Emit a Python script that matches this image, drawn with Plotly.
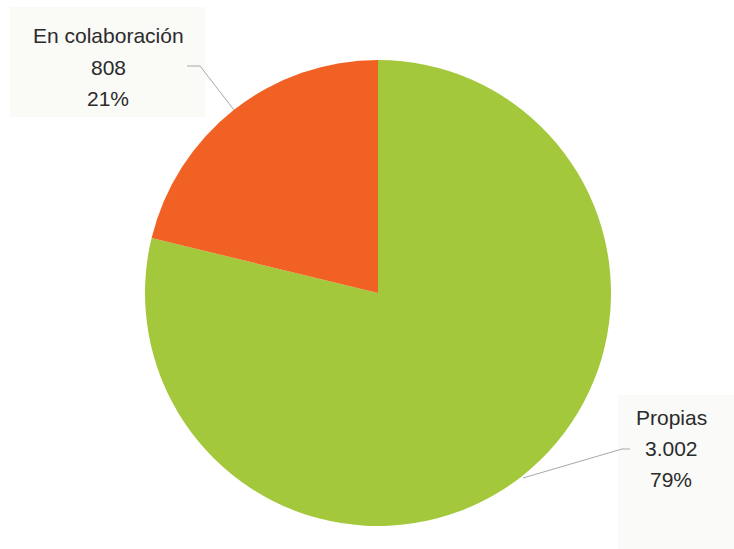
import plotly.graph_objects as go

categories = ["Propias", "En colaboración"]
values = [3002, 808]
colors = ["#A3C83B", "#F26124"]

W, H = 734, 549
cx, cy, r = 378, 293, 233

total = sum(values)

def fmt_num(v):
    return f"{v:,}".replace(",", ".")

def px(x):
    return x / W

def py(y):
    return 1 - y / H

fig = go.Figure()
fig.add_trace(go.Pie(
    labels=categories,
    values=values,
    marker=dict(colors=colors, line=dict(width=0)),
    sort=False,
    direction="clockwise",
    rotation=0,
    textinfo="none",
    hoverinfo="label+value+percent",
    showlegend=False,
    domain=dict(x=[px(cx - r), px(cx + r)], y=[py(cy + r), py(cy - r)]),
))

# label positions (centres of label blocks) in pixels
label_pos = {
    "En colaboración": (108, 36),
    "Propias": (671, 417),
}
line_gap = 31

annotations = []
for cat, val in zip(categories, values):
    lx, ly = label_pos[cat]
    pct = round(val / total * 100)
    lines = [cat, fmt_num(val), f"{pct}%"]
    for i, t in enumerate(lines):
        annotations.append(dict(
            x=px(lx), y=py(ly + i * line_gap), xref="paper", yref="paper",
            text=t, showarrow=False, xanchor="center", yanchor="middle",
            font=dict(family="Liberation Sans, Arial, sans-serif", size=21, color="#2B2B2B"),
        ))

shapes = [
    # faint label backgrounds
    dict(type="rect", xref="paper", yref="paper",
         x0=px(10), x1=px(205), y0=py(117), y1=py(7),
         fillcolor="#FAFAF7", line=dict(width=0), layer="below"),
    dict(type="rect", xref="paper", yref="paper",
         x0=px(618), x1=px(734), y0=py(549), y1=py(395),
         fillcolor="#FAFAF8", line=dict(width=0), layer="below"),
    # leader lines
    dict(type="path", xref="paper", yref="paper",
         path=f"M {px(187)} {py(66)} L {px(200)} {py(66)} L {px(234)} {py(110)}",
         line=dict(color="#A8A8A8", width=1)),
    dict(type="path", xref="paper", yref="paper",
         path=f"M {px(523)} {py(478)} L {px(622)} {py(449)} L {px(630)} {py(449)}",
         line=dict(color="#A8A8A8", width=1)),
]

fig.update_layout(
    width=W, height=H,
    margin=dict(l=0, r=0, t=0, b=0),
    paper_bgcolor="white",
    plot_bgcolor="white",
    annotations=annotations,
    shapes=shapes,
)

fig.write_html("out.html", config={"displayModeBar": False},
               post_script="document.body.style.margin='0';")
